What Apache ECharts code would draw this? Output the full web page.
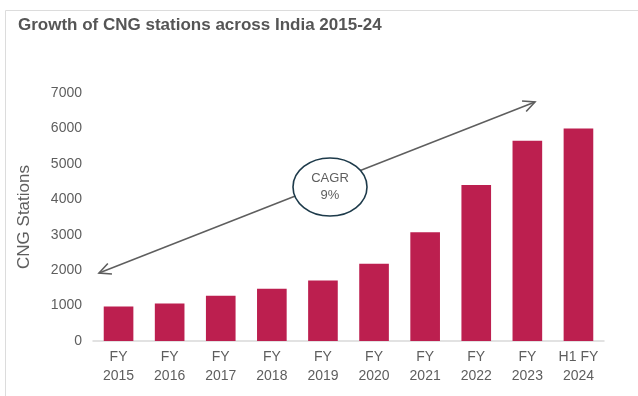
<!DOCTYPE html>
<html>
<head>
<meta charset="utf-8">
<script src="https://cdn.jsdelivr.net/npm/echarts@6/dist/echarts.min.js"></script>
<style>
  html, body { margin: 0; padding: 0; background: #fff; }
  #chart { width: 638px; height: 396px; }
</style>
</head>
<body>
<div id="chart"></div>
<script>
// Fiscal-year labels (two lines each) and CNG station counts
const periods = ['FY', 'FY', 'FY', 'FY', 'FY', 'FY', 'FY', 'FY', 'FY', 'H1 FY'];
const years = ['2015', '2016', '2017', '2018', '2019', '2020', '2021', '2022', '2023', '2024'];
const stations = [975, 1060, 1275, 1475, 1710, 2180, 3070, 4400, 5650, 6000];
const yTicks = [0, 1000, 2000, 3000, 4000, 5000, 6000, 7000];

const categories = periods.map((p, i) => p + '\n' + years[i]);

const textGray = '#5e5e5e';
const font = 'Arial, "Liberation Sans", sans-serif';

const chart = echarts.init(document.getElementById('chart'), null, { renderer: 'canvas' });

// open "V" arrowhead at tip (x, y) pointing along angle a
function arrowHead(x, y, a, len, spread) {
  const p1 = [x - len * Math.cos(a - spread), y - len * Math.sin(a - spread)];
  const p2 = [x - len * Math.cos(a + spread), y - len * Math.sin(a + spread)];
  return {
    type: 'polyline',
    shape: { points: [p1, [x, y], p2] },
    style: { stroke: textGray, lineWidth: 1.6, fill: null },
    z: 10
  };
}

const ax = 99, ay = 273, bx = 535, by = 102;
const ang = Math.atan2(by - ay, bx - ax);

chart.setOption({
  animation: false,
  backgroundColor: '#fff',
  title: {
    text: 'Growth of CNG stations across India 2015-24',
    left: 13,
    top: 12,
    textStyle: { fontFamily: font, fontSize: 17, fontWeight: 'bold', color: '#555' }
  },
  grid: { left: 93, right: 34, top: 93, bottom: 55 },
  xAxis: {
    type: 'category',
    data: categories,
    axisLine: { lineStyle: { color: '#d9d9d9', width: 1.5 } },
    axisTick: { show: false },
    axisLabel: {
      interval: 0,
      margin: 7,
      color: textGray,
      fontFamily: font,
      fontSize: 14,
      lineHeight: 19
    }
  },
  yAxis: {
    type: 'value',
    min: yTicks[0],
    max: yTicks[yTicks.length - 1],
    interval: 1000,
    name: 'CNG Stations',
    nameLocation: 'middle',
    nameGap: 60,
    nameRotate: 90,
    nameTextStyle: { color: textGray, fontFamily: font, fontSize: 17 },
    axisLine: { show: false },
    axisTick: { show: false },
    splitLine: { show: false },
    axisLabel: {
      color: textGray,
      fontFamily: font,
      fontSize: 14,
      margin: 11,
      formatter: v => String(v)
    }
  },
  series: [{
    type: 'bar',
    data: stations,
    barWidth: '58%',
    itemStyle: { color: '#BC1F4F' }
  }],
  graphic: [
    // light frame along top and left edges
    {
      type: 'polyline',
      shape: { points: [[5.5, 396], [5.5, 10.5], [638, 10.5]] },
      style: { stroke: '#dcdcdc', lineWidth: 1, fill: null },
      silent: true
    },
    // CAGR trend arrow
    {
      type: 'line',
      shape: { x1: ax, y1: ay, x2: bx, y2: by },
      style: { stroke: textGray, lineWidth: 1.5 },
      z: 10
    },
    arrowHead(bx, by, ang, 13, 0.45),
    arrowHead(ax, ay, ang + Math.PI, 13, 0.45),
    {
      type: 'ellipse',
      shape: { cx: 330, cy: 187, rx: 37, ry: 29 },
      style: { fill: '#fff', stroke: '#1d3a4a', lineWidth: 1.6 },
      z: 11
    },
    {
      type: 'text',
      x: 330,
      y: 187,
      style: {
        text: 'CAGR\n9%',
        fill: textGray,
        font: '13px ' + font,
        align: 'center',
        verticalAlign: 'middle',
        lineHeight: 17
      },
      z: 12
    }
  ]
});
</script>
</body>
</html>
